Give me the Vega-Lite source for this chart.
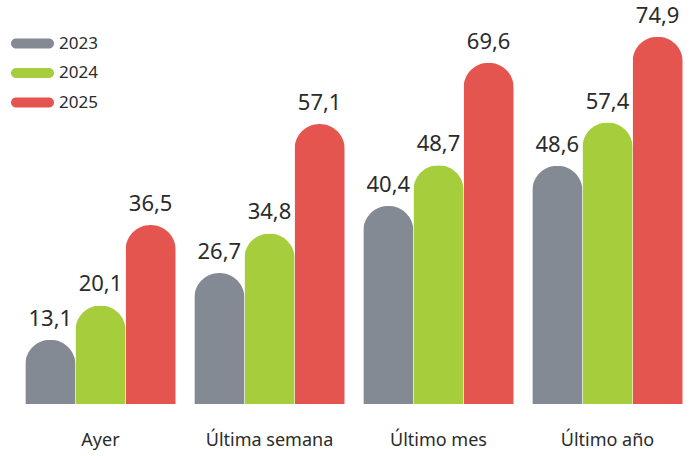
{
  "$schema": "https://vega.github.io/schema/vega-lite/v6.json",
  "width": 676,
  "height": 404,
  "autosize": {"type": "none"},
  "padding": {"left": 16, "top": 0, "right": 4, "bottom": 52},
  "config": {
    "view": {"stroke": null},
    "font": "Noto Sans",
    "locale": {"number": {"decimal": ",", "thousands": ".", "grouping": [3], "currency": ["", " €"]}}
  },
  "data": {
    "values": [
      {"periodo": "Ayer", "anio": "2023", "valor": 13.1},
      {"periodo": "Ayer", "anio": "2024", "valor": 20.1},
      {"periodo": "Ayer", "anio": "2025", "valor": 36.5},
      {"periodo": "Última semana", "anio": "2023", "valor": 26.7},
      {"periodo": "Última semana", "anio": "2024", "valor": 34.8},
      {"periodo": "Última semana", "anio": "2025", "valor": 57.1},
      {"periodo": "Último mes", "anio": "2023", "valor": 40.4},
      {"periodo": "Último mes", "anio": "2024", "valor": 48.7},
      {"periodo": "Último mes", "anio": "2025", "valor": 69.6},
      {"periodo": "Último año", "anio": "2023", "valor": 48.6},
      {"periodo": "Último año", "anio": "2024", "valor": 57.4},
      {"periodo": "Último año", "anio": "2025", "valor": 74.9}
    ]
  },
  "encoding": {
    "x": {
      "field": "periodo", "type": "nominal", "sort": null,
      "scale": {"paddingInner": 0.11, "paddingOuter": 0.055},
      "axis": {"title": null, "domain": false, "ticks": false, "labelAngle": 0, "labelPadding": 27, "labelFontSize": 18, "labelColor": "#2b2b2b", "labelFont": "Noto Sans"}
    },
    "xOffset": {"field": "anio", "type": "nominal", "scale": {"paddingInner": 0, "paddingOuter": 0}},
    "y": {"field": "valor", "type": "quantitative", "scale": {"domain": [0, 82.4], "nice": false}, "axis": null}
  },
  "layer": [
    {
      "mark": {"type": "bar", "cornerRadiusTopLeft": 25, "cornerRadiusTopRight": 25},
      "encoding": {
        "color": {
          "field": "anio", "type": "nominal",
          "scale": {"domain": ["2023", "2024", "2025"], "range": ["#838a93", "#a6ce3c", "#e5554f"]},
          "legend": {
            "title": null, "orient": "none", "legendX": 8, "legendY": 35,
            "symbolType": "M-3.3,-1 L3.3,-1 A1,1 0 0 1 3.3,1 L-3.3,1 A1,1 0 0 1 -3.3,-1 Z",
            "symbolSize": 100, "symbolStrokeWidth": 0, "labelOffset": 18,
            "labelFontSize": 17, "labelColor": "#2b2b2b", "rowPadding": 11.5,
            "labelFont": "Noto Sans"
          }
        }
      }
    },
    {
      "mark": {"type": "text", "dy": -21, "fontSize": 22, "color": "#2b2b2b", "baseline": "middle"},
      "encoding": {"text": {"field": "valor", "type": "quantitative", "format": ".1f"}}
    }
  ]
}
